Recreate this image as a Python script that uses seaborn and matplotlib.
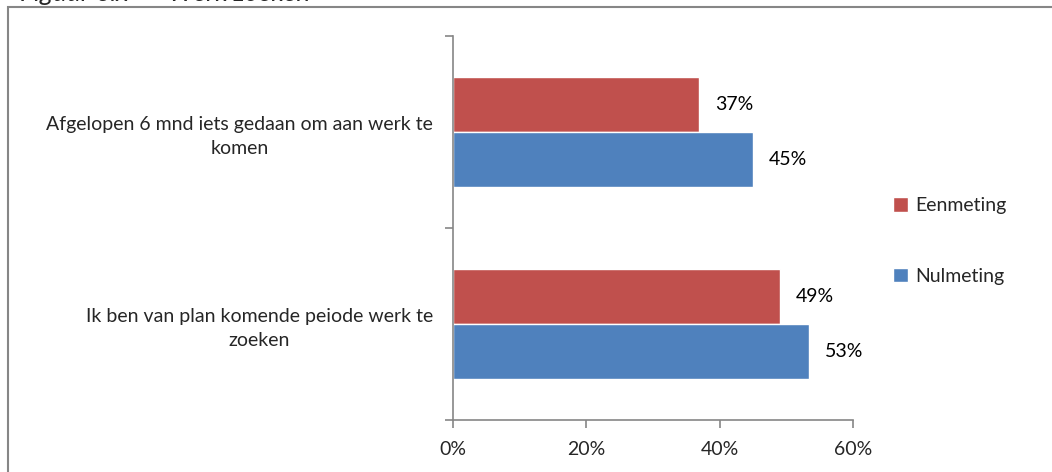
import pandas as pd
import matplotlib.pyplot as plt
import matplotlib.patches as mpatches
from matplotlib.ticker import FixedLocator
import seaborn as sns

# data
categories = ['Afgelopen 6 mnd iets gedaan om aan werk te\nkomen',
              'Ik ben van plan komende peiode werk te\nzoeken']
eenmeting = [36.9, 49.0]
nulmeting = [45.0, 53.4]
series = ['Eenmeting', 'Nulmeting']
colors = ['#C0504D', '#4F81BD']
xticks = [0, 20, 40, 60]

df = pd.DataFrame({
    'categorie': categories * 2,
    'meting': [series[0]] * 2 + [series[1]] * 2,
    'waarde': eenmeting + nulmeting,
})

sns.set_style('white')
plt.rcParams['font.family'] = ['Lato', 'DejaVu Sans']
fs = 14

fig = plt.figure(figsize=(10.52, 4.72), dpi=100)
ax = fig.add_axes([0.4306, 0.1102, 0.3802, 0.8136])

sns.barplot(data=df, y='categorie', x='waarde', hue='meting',
            hue_order=series, palette=colors, orient='h', width=0.573,
            saturation=1, ax=ax)

for cont in ax.containers:
    ax.bar_label(cont, labels=[f'{v:.0f}%' for v in cont.datavalues],
                 padding=11.5, fontsize=fs, color='#000000')

ax.set_xlim(0, 60)
ax.set_ylim(1.5, -0.5)
ax.set_xticks(xticks)
ax.set_xticklabels([f'{t}%' for t in xticks], fontsize=fs)
ax.yaxis.set_minor_locator(FixedLocator([-0.5, 0.5, 1.5]))
ax.tick_params(axis='y', which='major', length=0, pad=14.4, labelsize=fs)
ax.tick_params(axis='y', which='minor', length=6, direction='out', color='#868686', width=1.2, left=True)
ax.tick_params(axis='x', length=6, direction='out', color='#868686', width=1.2, pad=9, bottom=True)
for lab in ax.get_yticklabels():
    lab.set_multialignment('center')
    lab.set_linespacing(1.45)
ax.set_xlabel('')
ax.set_ylabel('')
sns.despine(ax=ax)
for s in ['left', 'bottom']:
    ax.spines[s].set_color('#868686')
    ax.spines[s].set_linewidth(1.2)

leg = ax.legend(loc='center left', bbox_to_anchor=(1.0575, 0.466), frameon=False,
                fontsize=fs, labelspacing=2.75, handlelength=0.75, handleheight=0.75,
                handletextpad=0.35)

# outer chart border (partly outside the crop)
fig.patches.append(mpatches.Rectangle((8 / 1052, -0.1), 1.2, 1 - 7 / 472 + 0.1,
                                      transform=fig.transFigure, fill=False,
                                      edgecolor='#868686', lw=1.5))
# clipped title at the top
fig.text(20 / 1052, 1 - 1 / 472, 'Figuur 6.x  –  Werk zoeken', fontsize=19,
         style='italic', va='baseline', ha='left')

fig.savefig('out.png', dpi=100)
